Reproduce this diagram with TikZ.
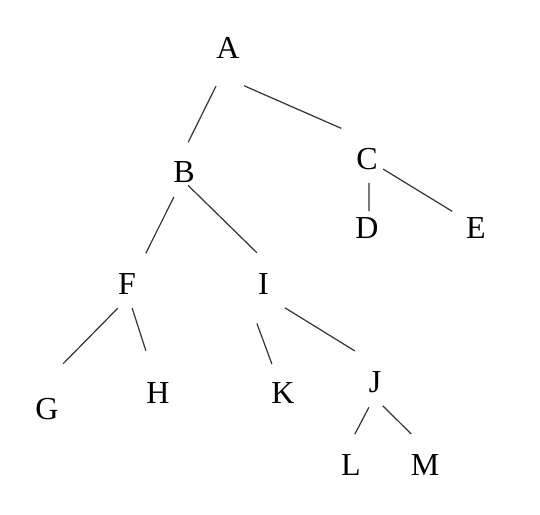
\documentclass[tikz,border=0pt]{standalone}
\usepackage{fontspec}
\setmainfont{Liberation Serif}
\begin{document}
\begin{tikzpicture}[x=1pt, y=1pt,
    letter/.style={inner sep=0pt, font=\fontsize{32}{38}\selectfont},
    branch/.style={line width=1.2pt, black!80}]
    \useasboundingbox (0,0) rectangle (540,514);

    % Letters
    \node[letter] (A) at (228,466) {A};
    \node[letter] (B) at (184,342) {B};
    \node[letter] (C) at (367,355) {C};
    \node[letter] (D) at (367,286) {D};
    \node[letter] (E) at (476,286) {E};
    \node[letter] (F) at (127,230) {F};
    \node[letter] (I) at (263.5,230) {I};
    \node[letter] (G) at (47,105) {G};
    \node[letter] (H) at (158,121) {H};
    \node[letter] (K) at (283,121) {K};
    \node[letter] (J) at (375,132) {J};
    \node[letter] (L) at (351,49) {L};
    \node[letter] (M) at (425,49) {M};

    % Top branches
    \draw[branch] ([shift={(252.5:40pt)}]A.center) -- ([shift={(82:30pt)}]B.center);
    \draw[branch] ([shift={(293:41pt)}]A.center) -- ([shift={(130:40pt)}]C.center);

    % Under C
    \draw[branch] ([shift={(275:24pt)}]C.center) -- ([shift={(83:17pt)}]D.center);
    \draw[branch] ([shift={(328:19pt)}]C.center) -- ([shift={(145:29pt)}]E.center);

    % Under B
    \draw[branch] ([shift={(248:27pt)}]B.center) -- ([shift={(58.5:36pt)}]F.center);
    \draw[branch] ([shift={(287:14pt)}]B.center) -- ([shift={(102:32pt)}]I.center);

    % Under F
    \draw[branch] ([shift={(249:26pt)}]F.center) -- ([shift={(70.4:48pt)}]G.center);
    \draw[branch] ([shift={(282:24.5pt)}]F.center) -- ([shift={(106:44pt)}]H.center);

    % Under I
    \draw[branch] ([shift={(260.5:40pt)}]I.center) -- ([shift={(111:31pt)}]K.center);
    \draw[branch] ([shift={(312:32pt)}]I.center) -- ([shift={(123:37pt)}]J.center);

    % Under J
    \draw[branch] ([shift={(256.5:26pt)}]J.center) -- ([shift={(83:31pt)}]L.center);
    \draw[branch] ([shift={(288:25pt)}]J.center) -- ([shift={(114:34pt)}]M.center);
\end{tikzpicture}
\end{document}
